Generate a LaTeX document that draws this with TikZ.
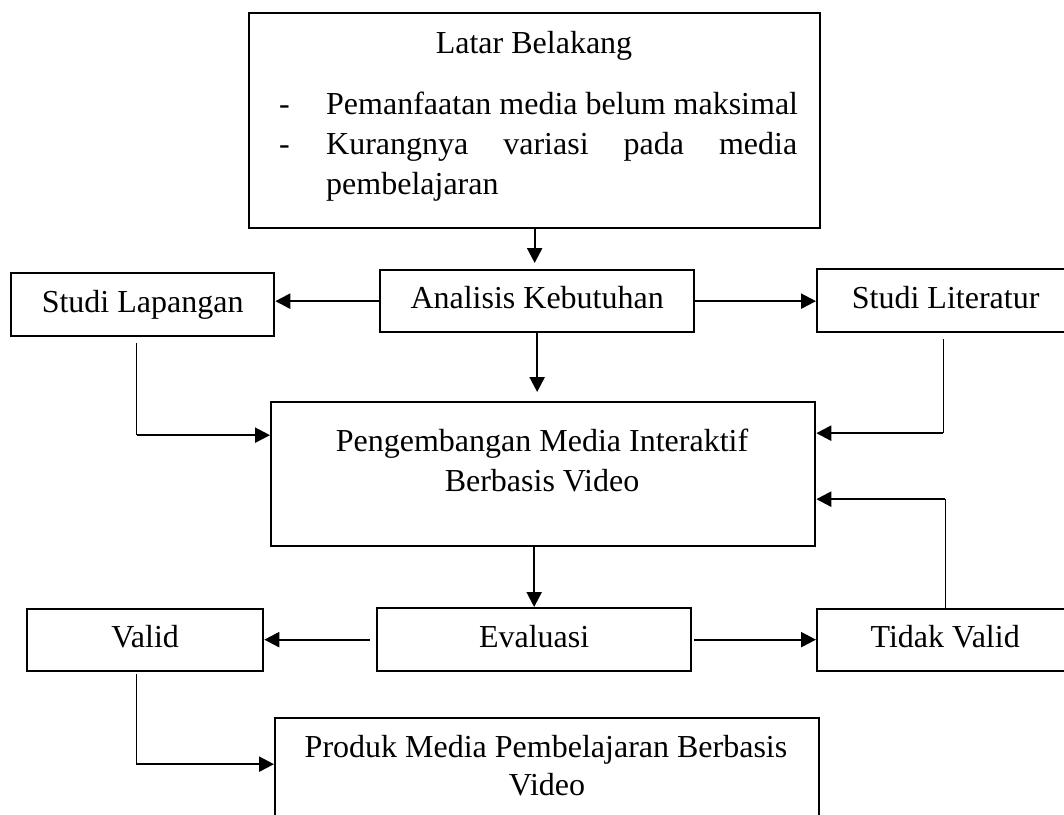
\documentclass[tikz,border=0pt]{standalone}
\usepackage{fontspec}
\setmainfont{Liberation Serif}
\usetikzlibrary{arrows.meta}
\begin{document}
\begin{tikzpicture}[x=1pt,y=-1pt,
  font=\fontsize{32}{40}\selectfont,
  box/.style={draw, line width=2.3pt, inner sep=0pt, anchor=north west, text height=22pt, text depth=7pt},
  arr/.style={line width=2.3pt, -{Triangle[length=15pt,width=15pt]}},
  feed/.style={line width=1.3pt},
  txt/.style={inner sep=0pt}]
\useasboundingbox (0,0) rectangle (1064,814);
\clip (0,0) rectangle (1064,814);
\fill[white] (0,0) rectangle (1064,814);

% boxes
\node[box, minimum width=571pt, minimum height=215pt] (lb) at (248,12) {};
\node[box, minimum width=314pt, minimum height=62pt] (an) at (379,269) {Analisis Kebutuhan};
\node[box, minimum width=263pt, minimum height=63pt] (sl) at (10,272) {Studi Lapangan};
\node[box, minimum width=257pt, minimum height=63pt] (sli) at (816,268) {Studi Literatur};
\node[box, minimum width=544pt, minimum height=144pt] (pg) at (270,401) {};
\node[box, minimum width=236pt, minimum height=62pt] (vl) at (26,608) {Valid};
\node[box, minimum width=314pt, minimum height=63pt] (ev) at (376,607) {Evaluasi};
\node[box, minimum width=256pt, minimum height=62pt] (tv) at (816,608) {Tidak Valid};
\node[box, minimum width=544pt, minimum height=118pt] (pr) at (274,717) {};

% texts in multi-line boxes
\node[txt, anchor=base] (lbt) at (534,53) {Latar Belakang};
\node[txt, anchor=base west] (d1) at (279,114) {-};
\node[txt, anchor=base west] (d2) at (279,154) {-};
\node[txt, anchor=base west] (l1) at (326,114) {Pemanfaatan media belum maksimal};
\node[txt, anchor=base west] (l2) at (326,154) {\makebox[471pt][s]{Kurangnya variasi pada media}};
\node[txt, anchor=base west] (l3) at (326,194) {pembelajaran};
\node[txt, anchor=base] (pgt1) at (542,451) {Pengembangan Media Interaktif};
\node[txt, anchor=base] (pgt2) at (542,491) {Berbasis Video};
\node[txt, anchor=base] (prt1) at (546,757) {Produk Media Pembelajaran Berbasis};
\node[txt, anchor=base] (prt2) at (547,795) {Video};

% connectors
\draw[arr, shorten >=6pt] (lb.south) -- (lb.south |- an.north);
\draw[arr] (an.west) -- (an.west -| sl.east);
\draw[arr] (an.east) -- (an.east -| sli.west);
\draw[arr, shorten >=9pt] (an.south) -- (an.south |- pg.north);

\coordinate (s1) at ([xshift=-6pt,yshift=-6pt]sl.south);
\coordinate (p1) at ([yshift=39pt]pg.west);
\coordinate (k1) at (s1 |- p1);
\draw[feed] (s1) -- (k1);
\draw[arr] (k1) -- (p1);

\coordinate (s2) at ([xshift=-2.5pt,yshift=-6pt]sli.south);
\coordinate (p2) at ([yshift=41pt]pg.east);
\coordinate (k2) at (s2 |- p2);
\draw[feed] (s2) -- (k2);
\draw[arr] (k2) -- (p2);

\draw[arr] (pg.south -| ev.north) -- (ev.north);
\draw[arr, shorten <=6pt] (ev.west) -- (ev.west -| vl.east);
\draw[arr, shorten <=2pt] (ev.east) -- (ev.east -| tv.west);

\coordinate (p3) at ([yshift=-25pt]pg.east);
\coordinate (k3) at (tv.north |- p3);
\draw[feed] (tv.north) -- (k3);
\draw[arr] (k3) -- (p3);

\coordinate (s4) at ([xshift=-9pt,yshift=-2pt]vl.south);
\coordinate (p4) at ([yshift=13pt]pr.west);
\coordinate (k4) at (s4 |- p4);
\draw[feed] (s4) -- (k4);
\draw[arr] (k4) -- (p4);
\end{tikzpicture}
\end{document}
